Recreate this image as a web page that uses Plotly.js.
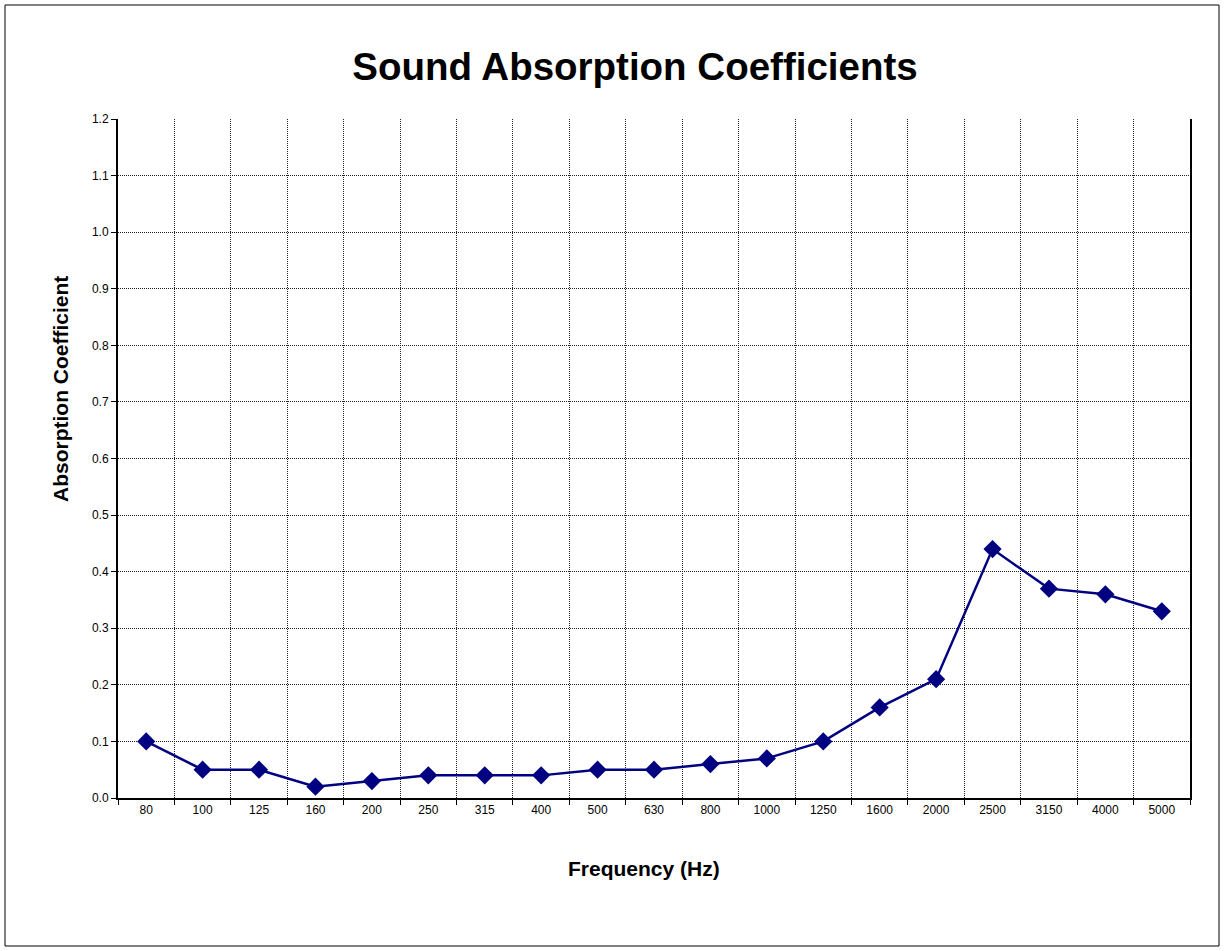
<!DOCTYPE html>
<html>
<head>
<meta charset="utf-8">
<script src="https://cdn.plot.ly/plotly-3.0.1.min.js"></script>
<style>html,body{margin:0;padding:0;background:#fff;}#chart{width:1225px;height:951px;}</style>
</head>
<body>
<div id="chart"></div>
<script>
const frequencies = ["80","100","125","160","200","250","315","400","500","630","800","1000","1250","1600","2000","2500","3150","4000","5000"];
const coefficients = [0.10,0.05,0.05,0.02,0.03,0.04,0.04,0.04,0.05,0.05,0.06,0.07,0.10,0.16,0.21,0.44,0.37,0.36,0.33];
const yTicks = [0,0.1,0.2,0.3,0.4,0.5,0.6,0.7,0.8,0.9,1.0,1.1,1.2];

const trace = {
  x: frequencies, y: coefficients, type: 'scatter', mode: 'lines+markers',
  line: {color: '#000080', width: 2.5},
  marker: {symbol: 'diamond', size: 14, color: '#000080'},
  hoverinfo: 'x+y'
};
const L=118,R=1190,T=119,B=798;
const pw=R-L, ph=B-T;
const layout = {
  width: 1225, height: 951,
  margin: {l: L, r: 1225-R, t: T, b: 951-B, pad: 0},
  paper_bgcolor: '#fff', plot_bgcolor: '#fff',
  font: {family: 'Liberation Sans, Arial, sans-serif', color: '#000', size: 12},
  showlegend: false,
  title: {text: '<b>Sound Absorption Coefficients</b>', x: 635/1225, xref: 'container', xanchor: 'center', y: 1-67/951, yref: 'container', yanchor: 'middle', font: {size: 38.5, color: '#000', family: 'Liberation Sans, Arial, sans-serif'}},
  xaxis: {
    type: 'category', range: [-0.5, 18.5], tickson: 'boundaries',
    showgrid: true, gridcolor: '#222', griddash: '1px,1px', gridwidth: 1,
    showline: true, linecolor: '#000', linewidth: 2,
    ticks: 'outside', ticklen: 5, tickcolor: '#000', tickwidth: 1,
    tickfont: {size: 12}, zeroline: false, fixedrange: true
  },
  yaxis: {
    range: [0, 1.2], tickvals: yTicks, tickformat: '.1f',
    showgrid: true, gridcolor: '#222', griddash: '1px,1px', gridwidth: 1,
    showline: true, linecolor: '#000', linewidth: 2, mirror: true,
    ticks: 'outside', ticklen: 5, tickcolor: '#000', tickwidth: 1,
    tickfont: {size: 12}, zeroline: false, fixedrange: true
  },
  annotations: [
    {text: '<b>Frequency (Hz)</b>', xref: 'paper', yref: 'paper', x: (644-L)/pw, y: (B-868)/ph, xanchor: 'center', yanchor: 'middle', showarrow: false, font: {size: 21}},
    {text: '<b>Absorption Coefficient</b>', xref: 'paper', yref: 'paper', x: (60-L)/pw, y: (B-389)/ph, xanchor: 'center', yanchor: 'middle', showarrow: false, textangle: -90, font: {size: 21}}
  ],
  shapes: [
    {type: 'rect', xref: 'paper', yref: 'paper', x0: (5-L)/pw, x1: (1219-L)/pw, y0: (B-946)/ph, y1: (B-5)/ph, line: {color: '#000', width: 1}, fillcolor: 'rgba(0,0,0,0)', layer: 'below'}
  ]
};
Plotly.newPlot('chart', [trace], layout, {displayModeBar: false, staticPlot: true});
</script>
</body>
</html>
